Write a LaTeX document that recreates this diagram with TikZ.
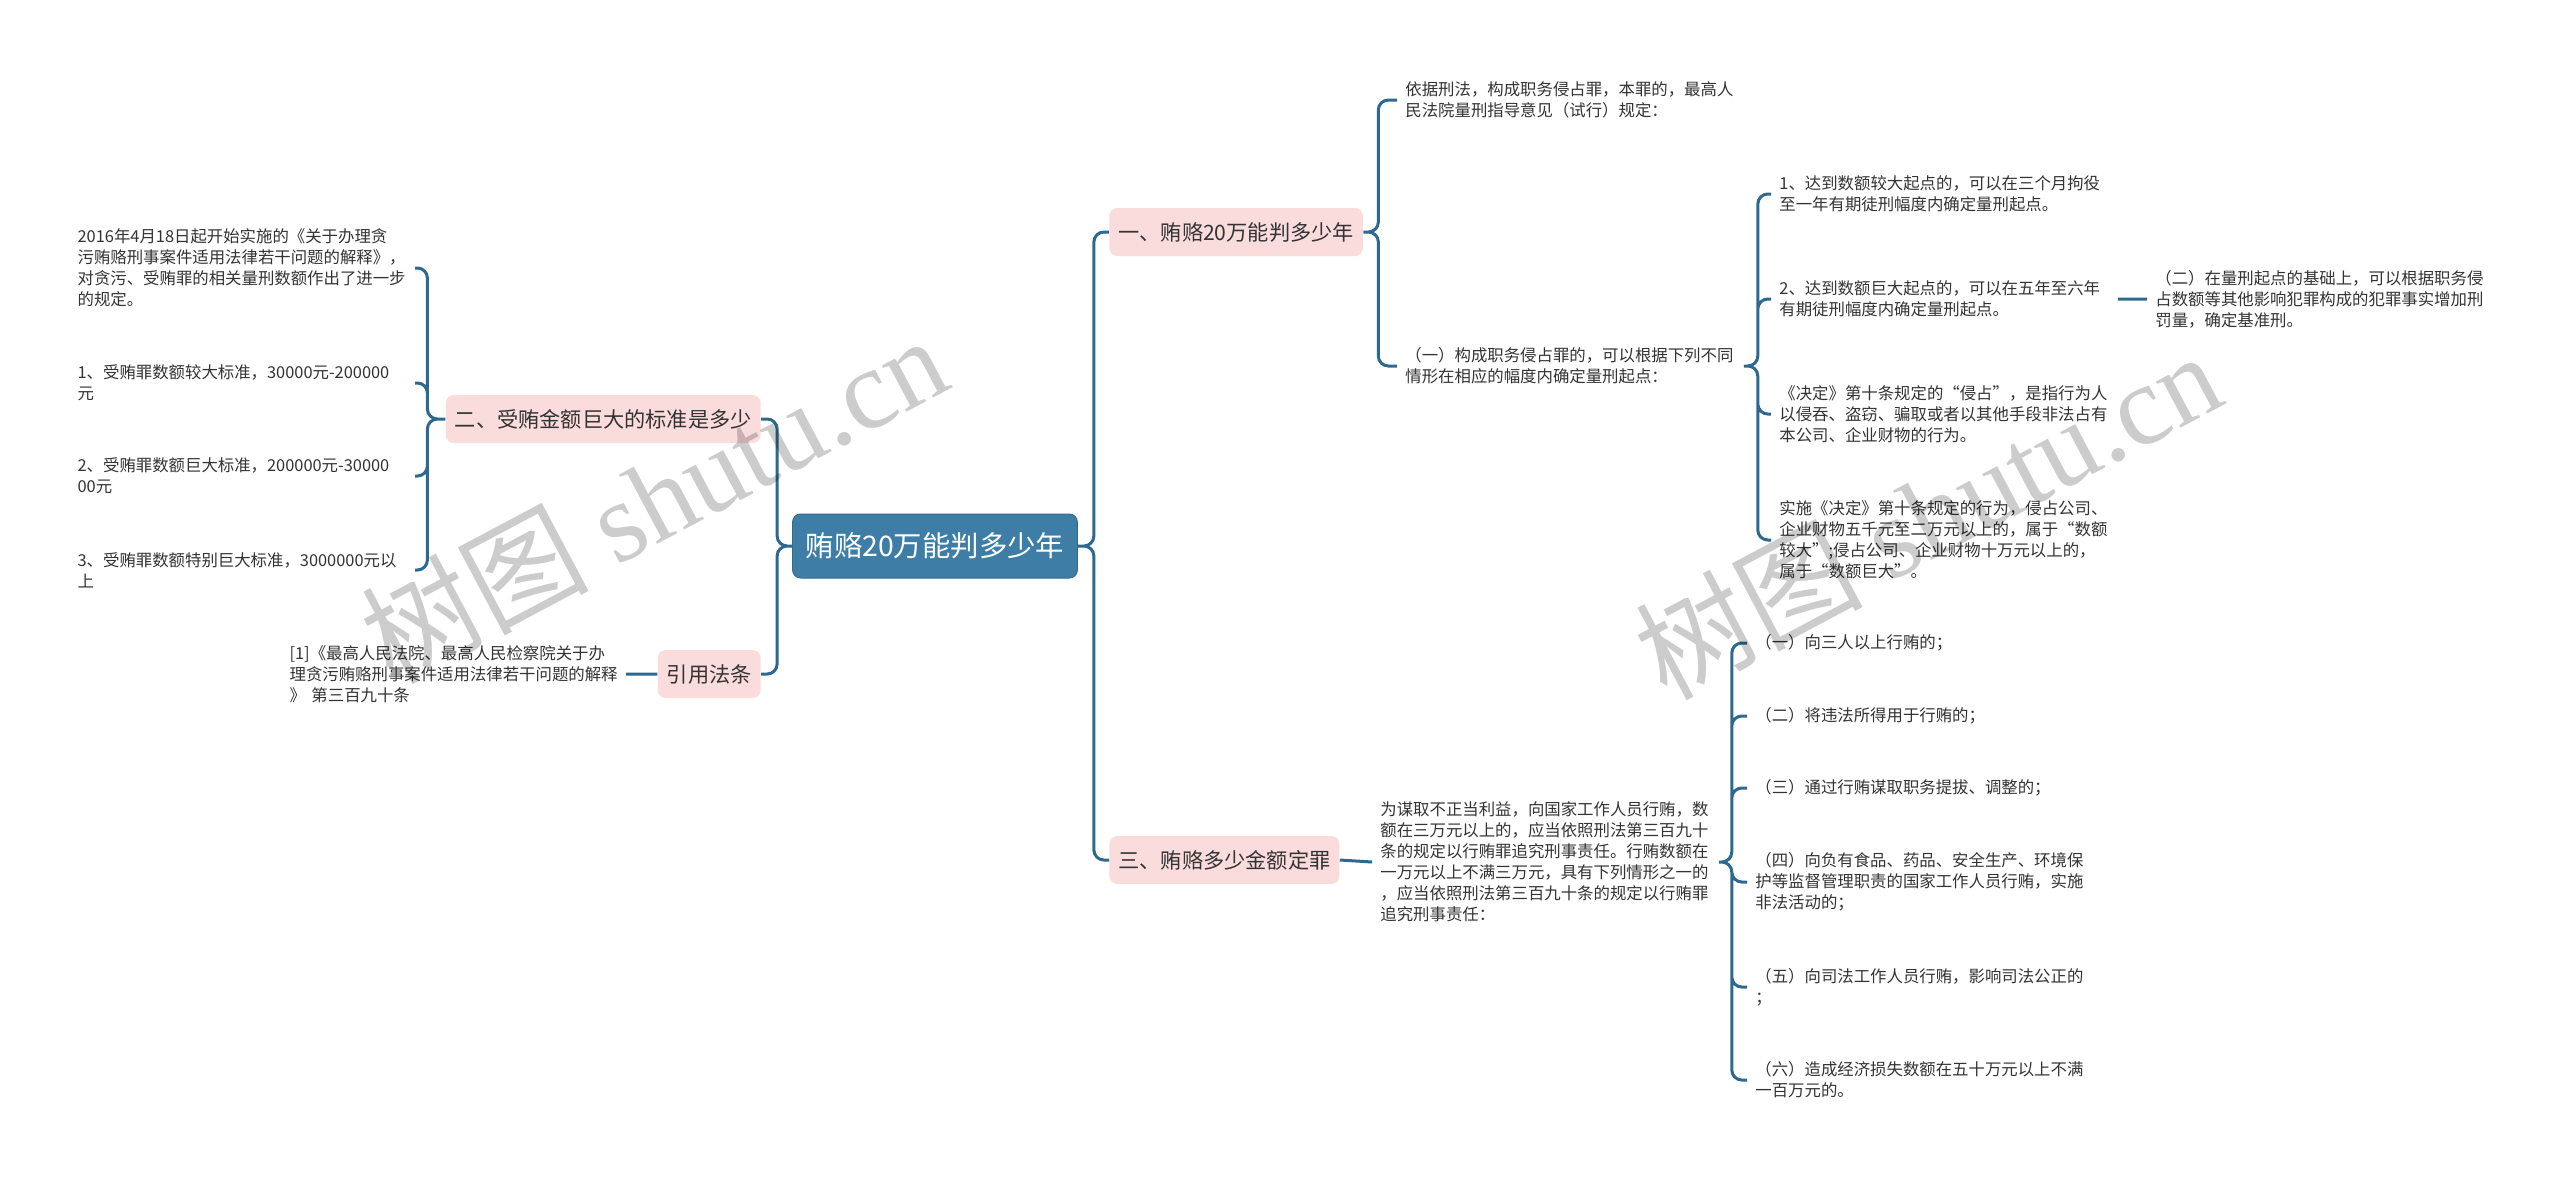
\documentclass[tikz,border=0pt]{standalone}
\usepackage{fontspec}
\setmainfont{Noto Sans CJK SC}
\newfontfamily\wmserif{Liberation Serif}
\usetikzlibrary{positioning}
\definecolor{linkblue}{RGB}{45,105,143}
\definecolor{rootblue}{RGB}{62,126,166}
\definecolor{topicpink}{RGB}{250,220,220}
\definecolor{inkgray}{RGB}{51,51,51}
\tikzset{
  rootbox/.style={fill=rootblue, draw=rootblue!85!black, line width=0.5pt,
    rounded corners=4pt, text=white, minimum height=32pt, inner xsep=6.5pt,
    font=\fontsize{14.2pt}{17pt}\selectfont},
  topic/.style={fill=topicpink, rounded corners=4pt, text=inkgray,
    minimum height=24pt, inner xsep=4.5pt, font=\fontsize{10.6pt}{13pt}\selectfont},
  leaf/.style={align=left, text width=165pt, inner xsep=4pt, inner ysep=0pt,
    text=inkgray, font=\fontsize{8.2pt}{10.5pt}\selectfont},
  branch/.style={draw=linkblue, line width=1.5pt, rounded corners=5pt},
  watermark/.style={text=black, text opacity=0.2, rotate=28,
    font=\fontsize{57pt}{60pt}\selectfont}
}

\begin{document}
\begin{tikzpicture}[x=0.5pt, y=-0.5pt]
    \fill[white] (0,0) rectangle (2560,1179);
    \useasboundingbox (0,0) rectangle (2560,1179);

    \node[rootbox] (root) at (935,546) {贿赂20万能判多少年};
    \node[topic, anchor=east] (biaozhun) at (761,419) {二、受贿金额巨大的标准是多少};
    \node[topic, anchor=east] (fatiao) at (761,674) {引用法条};
    \node[topic, anchor=west] (panxing) at (1109,232) {一、贿赂20万能判多少年};
    \node[topic, anchor=west] (dingzui) at (1109,860) {三、贿赂多少金额定罪};

    % left
    \node[leaf, text width=164.5pt, anchor=east] (jieshi) at (415,268)
      {2016年4月18日起开始实施的《关于办理贪\\污贿赂刑事案件适用法律若干问题的解释》，\\对贪污、受贿罪的相关量刑数额作出了进一步\\的规定。};
    \node[leaf, text width=164.5pt, anchor=east] (biaozhun-1) at (415,383)
      {1、受贿罪数额较大标准，30000元-200000\\元};
    \node[leaf, text width=164.5pt, anchor=east] (biaozhun-2) at (415,476)
      {2、受贿罪数额巨大标准，200000元-30000\\00元};
    \node[leaf, text width=164.5pt, anchor=east] (biaozhun-3) at (415,570)
      {3、受贿罪数额特别巨大标准，3000000元以\\上};
    \node[leaf, text width=164pt, anchor=east] (tiaowen) at (626,674)
      {[1]《最高人民法院、最高人民检察院关于办\\理贪污贿赂刑事案件适用法律若干问题的解释\\》 第三百九十条};

    % right, first topic
    \node[leaf, anchor=west] (yiju) at (1397,100)
      {依据刑法，构成职务侵占罪，本罪的，最高人\\民法院量刑指导意见（试行）规定：};
    \node[leaf, anchor=west] (qidian) at (1397,366)
      {（一）构成职务侵占罪的，可以根据下列不同\\情形在相应的幅度内确定量刑起点：};
    \node[leaf, anchor=west] (qidian-1) at (1771,194)
      {1、达到数额较大起点的，可以在三个月拘役\\至一年有期徒刑幅度内确定量刑起点。};
    \node[leaf, anchor=west] (qidian-2) at (1771,299)
      {2、达到数额巨大起点的，可以在五年至六年\\有期徒刑幅度内确定量刑起点。};
    \node[leaf, anchor=west] (jueding) at (1771,414)
      {《决定》第十条规定的“侵占”，是指行为人\\以侵吞、盗窃、骗取或者以其他手段非法占有\\本公司、企业财物的行为。};
    \node[leaf, anchor=west] (shishi) at (1771,540)
      {实施《决定》第十条规定的行为，侵占公司、\\企业财物五千元至二万元以上的，属于“数额\\较大”;侵占公司、企业财物十万元以上的，\\属于“数额巨大”。};
    \node[leaf, anchor=west] (jizhun) at (2147,299)
      {（二）在量刑起点的基础上，可以根据职务侵\\占数额等其他影响犯罪构成的犯罪事实增加刑\\罚量，确定基准刑。};

    % right, third topic
    \node[leaf, anchor=west] (moqu) at (1372,862)
      {为谋取不正当利益，向国家工作人员行贿，数\\额在三万元以上的，应当依照刑法第三百九十\\条的规定以行贿罪追究刑事责任。行贿数额在\\一万元以上不满三万元，具有下列情形之一的\\，应当依照刑法第三百九十条的规定以行贿罪\\追究刑事责任：};
    \node[leaf, anchor=west] (qing-1) at (1747,643) {（一）向三人以上行贿的；};
    \node[leaf, anchor=west] (qing-2) at (1747,716) {（二）将违法所得用于行贿的；};
    \node[leaf, anchor=west] (qing-3) at (1747,788) {（三）通过行贿谋取职务提拔、调整的；};
    \node[leaf, anchor=west] (qing-4) at (1747,882)
      {（四）向负有食品、药品、安全生产、环境保\\护等监督管理职责的国家工作人员行贿，实施\\非法活动的；};
    \node[leaf, anchor=west] (qing-5) at (1747,987)
      {（五）向司法工作人员行贿，影响司法公正的\\；};
    \node[leaf, anchor=west] (qing-6) at (1747,1080)
      {（六）造成经济损失数额在五十万元以上不满\\一百万元的。};

    \draw[branch]
    (root.west)
      -- ++(-15,0) |- (biaozhun.east)
      (root.west) -- ++(-15,0) |- (fatiao.east)
    (root.east)
      -- ++(16,0) |- (panxing.west)
      (root.east) -- ++(16,0) |- (dingzui.west)
    (biaozhun.west)
      -- ++(-18,0) |- (jieshi.east)
      (biaozhun.west) -- ++(-18,0) |- (biaozhun-1.east)
      (biaozhun.west) -- ++(-18,0) |- (biaozhun-2.east)
      (biaozhun.west) -- ++(-18,0) |- (biaozhun-3.east)
    (fatiao.west) -- (tiaowen.east)
    (panxing.east)
      -- ++(15,0) |- (yiju.west)
      (panxing.east) -- ++(15,0) |- (qidian.west)
    (qidian.east)
      -- ++(14,0) |- (qidian-1.west)
      (qidian.east) -- ++(14,0) |- (qidian-2.west)
      (qidian.east) -- ++(14,0) |- (jueding.west)
      (qidian.east) -- ++(14,0) |- (shishi.west)
    (qidian-2.east) -- (jizhun.west)
    (dingzui.east) -- (moqu.west)
    (moqu.east)
      -- ++(13,0) |- (qing-1.west)
      (moqu.east) -- ++(13,0) |- (qing-2.west)
      (moqu.east) -- ++(13,0) |- (qing-3.west)
      (moqu.east) -- ++(13,0) |- (qing-4.west)
      (moqu.east) -- ++(13,0) |- (qing-5.west)
      (moqu.east) -- ++(13,0) |- (qing-6.west)
    ;

    % watermark, on top
    \node[watermark] (mark-left) at (653,498) {树图 {\wmserif shutu.cn}};
    \node[watermark] (mark-right) at (1927,514) {树图 {\wmserif shutu.cn}};
\end{tikzpicture}
\end{document}
